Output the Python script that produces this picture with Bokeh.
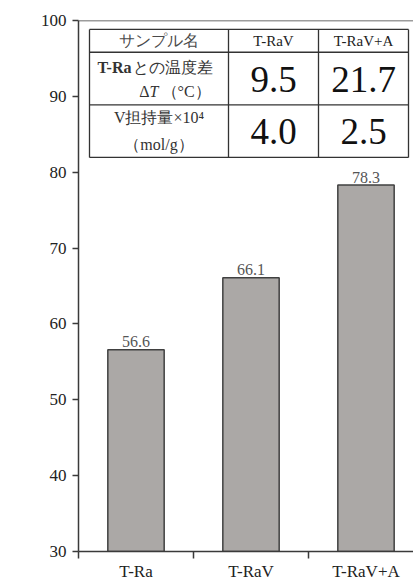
import math
from bokeh.plotting import figure
from bokeh.models import ColumnDataSource, FixedTicker, Span, Label
from bokeh.core.properties import value
from bokeh.embed import file_html
from bokeh.resources import INLINE

# ---------------- data ----------------
samples = ["T-Ra", "T-RaV", "T-RaV+A"]
temps = [56.6, 66.1, 78.3]
y_ticks = [30, 40, 50, 60, 70, 80, 90, 100]

table_header = ["サンプル名", "T-RaV", "T-RaV+A"]
row1_label = ["T-Ra", "との温度差"]
row2_label = ["V担持量×10⁴", "（mol/g）"]
delta_T = [9.5, 21.7]      # T-RaV, T-RaV+A
v_loading = [4.0, 2.5]     # ×10^4 mol/g

# ---------------- layout helpers (reference pixel geometry) ----------------
SERIF = "Liberation Serif"
DARK = "#3a3a3a"
PX_X0, PX_PER_CAT = 78, 115        # frame left px, px per category
PX_Y_TOP, PX_Y_BOT = 20, 555        # px of y=100 and y=30


def px_x(px):
    return 0.5 + (px - PX_X0) / PX_PER_CAT


def px_y(py):
    return 100 - (py - PX_Y_TOP) * 70 / (PX_Y_BOT - PX_Y_TOP)


W, H = 413, 583
p = figure(width=W, height=H, output_backend="svg", toolbar_location=None,
           x_range=(0.5, px_x(413)), y_range=(30, 100),
           min_border_left=78, min_border_right=0, min_border_top=20,
           min_border_bottom=20)
p.outline_line_color = None
p.xgrid.visible = False
p.ygrid.visible = False
p.background_fill_color = "white"

xs = list(range(1, len(samples) + 1))
src = ColumnDataSource(dict(x=xs, top=temps,
                            lab=[f"{t:.1f}" for t in temps]))
p.vbar(x="x", top="top", bottom=30, width=0.49, source=src,
       fill_color="#aba8a6", line_color="#404040", line_width=1.5)
p.text(x="x", y="top", text="lab", source=src, text_align="center",
       text_baseline="alphabetic", y_offset=-8,
       text_font=value(SERIF), text_font_size="16px", text_color="#555555")

# top frame line
p.add_layout(Span(location=100, dimension="width", line_color=DARK,
                  line_width=1.5))

# axes
ya = p.yaxis[0]
ya.ticker = FixedTicker(ticks=y_ticks)
ya.major_tick_out = 6
ya.major_tick_in = 0
ya.minor_tick_out = 0
ya.minor_tick_in = 0
ya.axis_line_color = DARK
ya.axis_line_width = 1.5
ya.major_tick_line_color = DARK
ya.major_tick_line_width = 1.5
ya.major_label_text_font = SERIF
ya.major_label_text_font_size = "17px"
ya.major_label_text_color = "#222222"
ya.major_label_standoff = 6

xa = p.xaxis[0]
xa.ticker = FixedTicker(ticks=xs, minor_ticks=[0.5, 1.5, 2.5, 3.5])
xa.major_label_overrides = {i: s for i, s in zip(xs, samples)}
xa.major_tick_out = 0
xa.major_tick_in = 0
xa.minor_tick_out = 7
xa.minor_tick_in = 0
xa.minor_tick_line_color = DARK
xa.minor_tick_line_width = 1.5
xa.axis_line_color = DARK
xa.axis_line_width = 1.5
xa.major_label_text_font = SERIF
xa.major_label_text_font_size = "17px"
xa.major_label_text_color = "#222222"
xa.major_label_standoff = 3

# y-axis title "T / °C" (T italic)
p.add_layout(Label(x=px_x(32), y=px_y(308), text="T", angle=math.pi / 2,
                   text_align="left", text_baseline="alphabetic",
                   text_font=SERIF, text_font_style="italic",
                   text_font_size="19px", text_color="#222222"))
p.add_layout(Label(x=px_x(32), y=px_y(296), text=" / °C", angle=math.pi / 2,
                   text_align="left", text_baseline="alphabetic",
                   text_font=SERIF, text_font_size="19px",
                   text_color="#222222"))

# ---------------- table ----------------
col_px = [89, 228, 318, 408]
row_px = [29, 52, 105, 158]
lines_x, lines_y = [], []
for r in row_px:
    lines_x.append([px_x(col_px[0]), px_x(col_px[-1])])
    lines_y.append([px_y(r), px_y(r)])
for c in col_px:
    lines_x.append([px_x(c), px_x(c)])
    lines_y.append([px_y(row_px[0]), px_y(row_px[-1])])
p.multi_line(xs=lines_x, ys=lines_y, line_color="#333333", line_width=1.3)

cx = [(col_px[i] + col_px[i + 1]) / 2 for i in range(3)]
cy = [(row_px[i] + row_px[i + 1]) / 2 for i in range(3)]


def txt(x_px, y_px, text, size, align="center", style="normal",
        color="#333333"):
    p.text(x=[px_x(x_px)], y=[px_y(y_px)], text=[text], text_align=align,
           text_baseline="middle", text_font=value(SERIF),
           text_font_style=style, text_font_size=size, text_color=color)


# header row
txt(cx[0], cy[0], table_header[0], "16px", color="#4a4a4a")
txt(cx[1], cy[0], table_header[1], "15px", color="#222222")
txt(cx[2], cy[0], table_header[2], "15px", color="#222222")

# row 1: ΔT
txt(131, 67, row1_label[0], "16px", align="right", style="bold")
txt(132, 67, row1_label[1], "16px", align="left")
txt(149, 92, "Δ", "16px", align="right")
txt(149, 92, "T", "16px", align="left", style="italic")
txt(161, 92, "（°C）", "16px", align="left")
txt(cx[1], 79, f"{delta_T[0]:.1f}", "37px", color="#111111")
txt(cx[2], 79, f"{delta_T[1]:.1f}", "37px", color="#111111")

# row 2: V loading
txt(cx[0], 118, row2_label[0], "16px")
txt(cx[0], 145, row2_label[1], "16px")
txt(cx[1], 132, f"{v_loading[0]:.1f}", "37px", color="#111111")
txt(cx[2], 132, f"{v_loading[1]:.1f}", "37px", color="#111111")

open("out.html", "w").write(file_html(p, INLINE))
